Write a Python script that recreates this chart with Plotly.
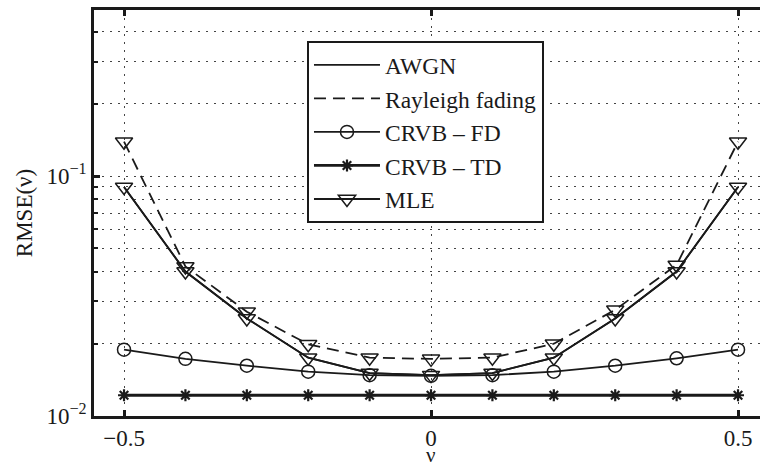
import plotly.graph_objects as go

# Normalised frequency offset
nu = [-0.5, -0.4, -0.3, -0.2, -0.1, 0.0, 0.1, 0.2, 0.3, 0.4, 0.5]

# RMSE curves
mle_awgn = [0.090, 0.040, 0.0255, 0.0175, 0.0151, 0.0148, 0.0151, 0.0175, 0.0255, 0.040, 0.090]
mle_rayleigh = [0.139, 0.042, 0.0272, 0.0199, 0.0175, 0.0173, 0.0175, 0.0200, 0.0277, 0.0426, 0.139]
crvb_fd = [0.0189, 0.0173, 0.0162, 0.0153, 0.0148, 0.0147, 0.0148, 0.0153, 0.0162, 0.0174, 0.0189]
crvb_td = [0.0122] * 11

x_ticks = [-0.5, 0, 0.5]
x_tick_text = ["\u22120.5", "0", "0.5"]
y_major = [0.01, 0.1]
y_major_text = ["10<sup>\u22122</sup>", "10<sup>\u22121</sup>"]
y_minor = [0.02, 0.03, 0.04, 0.05, 0.06, 0.07, 0.08, 0.09, 0.2, 0.3, 0.4]

FONT = "Liberation Serif, Times New Roman, serif"
BLACK = "#1a1a1a"
GRID = "#444444"

fig = go.Figure()

fig.add_trace(go.Scatter(
    x=nu, y=mle_awgn, name="AWGN", mode="lines", legendgroup="a",
    line=dict(color=BLACK, width=1.8),
))
fig.add_trace(go.Scatter(
    x=nu, y=mle_rayleigh, name="Rayleigh fading", mode="lines", legendgroup="b",
    line=dict(color=BLACK, width=1.8, dash="12px,7px"),
))
fig.add_trace(go.Scatter(
    x=nu, y=crvb_fd, name="CRVB \u2013 FD", mode="lines+markers", legendgroup="c",
    line=dict(color=BLACK, width=1.8),
    marker=dict(symbol="circle-open", size=13, color=BLACK, line=dict(width=1.5)),
))
fig.add_trace(go.Scatter(
    x=nu, y=crvb_td, name="CRVB \u2013 TD", mode="lines+markers", legendgroup="d",
    line=dict(color=BLACK, width=2.8),
    marker=dict(symbol="asterisk-open", size=10, color=BLACK, line=dict(width=2.2, color=BLACK)),
))
fig.add_trace(go.Scatter(
    x=nu, y=mle_awgn, name="MLE", mode="lines+markers", legendgroup="e",
    line=dict(color=BLACK, width=1.8),
    marker=dict(symbol="triangle-down-open", size=15, color=BLACK, line=dict(width=1.5)),
))
fig.add_trace(go.Scatter(
    x=nu, y=mle_rayleigh, name="MLE", mode="markers", legendgroup="e", showlegend=False,
    marker=dict(symbol="triangle-down-open", size=15, color=BLACK, line=dict(width=1.5)),
))

fig.update_layout(
    width=760, height=469,
    margin=dict(l=94, r=0, t=10, b=53),
    paper_bgcolor="white", plot_bgcolor="white",
    font=dict(family=FONT, size=23, color=BLACK),
    showlegend=True,
    legend=dict(
        x=0.3198, y=0.9236, xanchor="left", yanchor="top",
        bgcolor="white", bordercolor=BLACK, borderwidth=2,
        font=dict(family=FONT, size=23.5, color=BLACK),
        tracegroupgap=0, itemwidth=66,
    ),
    xaxis=dict(
        range=[-0.5489, 0.5358], automargin=False,
        tickmode="array", tickvals=x_ticks, ticktext=x_tick_text,
        ticks="inside", ticklen=6, tickwidth=2.5, tickcolor=BLACK,
        showline=True, linewidth=2.5, linecolor=BLACK, mirror="ticks",
        showgrid=True, gridcolor=GRID, gridwidth=1, griddash="2px,6px",
        zeroline=False,
        tickfont=dict(family=FONT, size=23, color=BLACK),
    ),
    yaxis=dict(
        type="log", range=[-2, -0.3083], automargin=False,
        tickmode="array", tickvals=y_major, ticktext=y_major_text,
        ticks="inside", ticklen=6, tickwidth=2.5, tickcolor=BLACK,
        showline=True, linewidth=2.5, linecolor=BLACK, mirror=False,
        showgrid=True, gridcolor=GRID, gridwidth=1, griddash="2px,6px",
        zeroline=False,
        tickfont=dict(family=FONT, size=23, color=BLACK),
        minor=dict(
            tickmode="array", tickvals=y_minor,
            ticks="inside", ticklen=4, tickwidth=2, tickcolor=BLACK,
            showgrid=True, gridcolor=GRID, gridwidth=1, griddash="2px,6px",
        ),
        title=dict(text="RMSE(\u03bd)", font=dict(family=FONT, size=23, color=BLACK), standoff=8),
    ),
    annotations=[dict(
        text="\u03bd", x=0, xref="x", y=-0.128, yref="paper",
        xanchor="center", yanchor="bottom", showarrow=False, borderpad=0,
        font=dict(family=FONT, size=21, color=BLACK),
    )],
)

fig.write_html("out.html")
